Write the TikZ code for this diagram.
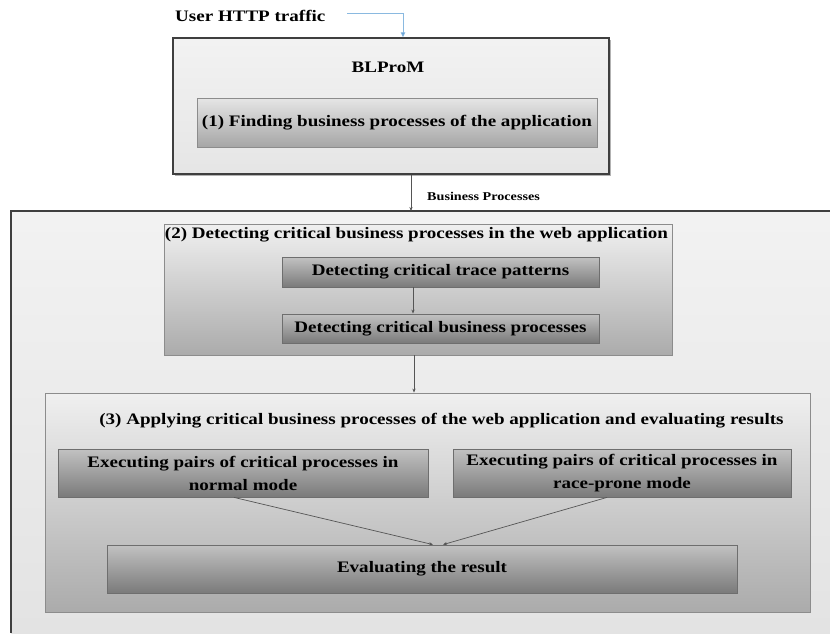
\documentclass[tikz,border=0pt]{standalone}
\usepackage{fontspec}
\setmainfont{Liberation Serif}[FakeStretch=1.19]
\usetikzlibrary{arrows.meta}

\definecolor{framedark}{HTML}{3F3F3F}
\definecolor{edgegray}{HTML}{8C8C8C}
\definecolor{edgedark}{HTML}{6E6E6E}
\definecolor{arrowgray}{HTML}{555555}
\definecolor{flowblue}{HTML}{8AB9E0}
\definecolor{tipblue}{HTML}{5B9BD5}

\begin{document}
\begin{tikzpicture}[x=1pt,y=-1pt,
  maintext/.style={font=\fontsize{16}{23}\selectfont\bfseries},
  smalltext/.style={font=\fontsize{11.9}{13}\selectfont\bfseries, inner sep=0pt, anchor=base west},
  panel/.style={rectangle, inner sep=0pt, draw=edgegray, line width=0.8pt},
  darkbox/.style={rectangle, inner sep=0pt, draw=edgedark, line width=0.8pt,
    top color=black!24, bottom color=black!52, maintext, align=center},
  flow/.style={draw=arrowgray, line width=0.7pt, -{Stealth[length=4pt,width=3.2pt]}},
]
\useasboundingbox (0,0) rectangle (830,633);
\fill[white] (0,0) rectangle (830,633);

% outer frame of the analysis stages (open to the right and bottom)
\shade[top color=black!5, bottom color=black!11] (11,211) rectangle (830,633);
\draw[framedark, line width=1.4pt] (11,633) -- (11,211) -- (830,211);
\coordinate (stagesTop) at (411,211);

% input traffic
\node[maintext, inner sep=0pt, anchor=base west] (traffic) at (175,21) {User HTTP traffic};
\coordinate (trafficStart) at (347,13);

% BLProM block
\fill[black!30] (175,40) rectangle (611,176);
\node[rectangle, inner sep=0pt, draw=framedark, line width=1.4pt,
      top color=black!5, bottom color=black!10,
      minimum width=436pt, minimum height=136pt] (blprom) at (391,106) {};
\node[maintext, inner sep=0pt, anchor=base] (blpromTitle) at (388,72) {BLProM};
\node[rectangle, inner sep=0pt, draw=edgegray, line width=0.8pt,
      top color=black!10, bottom color=black!35, maintext,
      minimum width=400pt, minimum height=49pt] (finding) at (397,122.5)
      {(1) Finding business processes of the application};

\draw[draw=flowblue, line width=0.8pt, -{Triangle[length=5pt,width=4.5pt,fill=tipblue]}]
  (trafficStart) -| ([xshift=12pt]blprom.north);

\draw[flow] (blprom.south -| stagesTop) -- (stagesTop);
\node[smalltext] (bpLabel) at (427,200) {Business Processes};

% stage 2
\node[panel, top color=black!6, bottom color=black!33,
      minimum width=508pt, minimum height=131pt] (detect) at (418,289.5) {};
\node[maintext, inner sep=0pt, anchor=base] (detectTitle) at (416.5,238)
  {(2) Detecting critical business processes in the web application};
\node[darkbox, minimum width=317pt, minimum height=30pt] (trace) at (440.5,272)
  {Detecting critical trace patterns};
\node[darkbox, minimum width=317pt, minimum height=29pt] (bizproc) at (440.5,328.5)
  {Detecting critical business processes};
\draw[flow] ([xshift=-27.5pt]trace.south) -- ([xshift=-27.5pt]bizproc.north);

% stage 3
\node[panel, top color=black!6, bottom color=black!33,
      minimum width=765pt, minimum height=219pt] (apply) at (427.5,502.5) {};
\node[maintext, inner sep=0pt, anchor=base] (applyTitle) at (441.5,424)
  {(3) Applying critical business processes of the web application and evaluating results};
\coordinate (stageLink) at (414,0);
\draw[flow] (detect.south -| stageLink) -- (apply.north -| stageLink);

\node[darkbox, minimum width=370pt, minimum height=48pt] (normal) at (243,473)
  {Executing pairs of critical processes in\\normal mode};
\node[darkbox, minimum width=338pt, minimum height=48pt] (race) at (622,473)
  {Executing pairs of critical processes in\\race-prone mode};
\node[darkbox, minimum width=630pt, minimum height=48pt] (evaluate) at (422,569)
  {Evaluating the result};

\draw[flow] ([xshift=-9pt]normal.south) -- ([xshift=11pt]evaluate.north);
\draw[flow] ([xshift=-15pt]race.south) -- ([xshift=21pt]evaluate.north);
\end{tikzpicture}
\end{document}
